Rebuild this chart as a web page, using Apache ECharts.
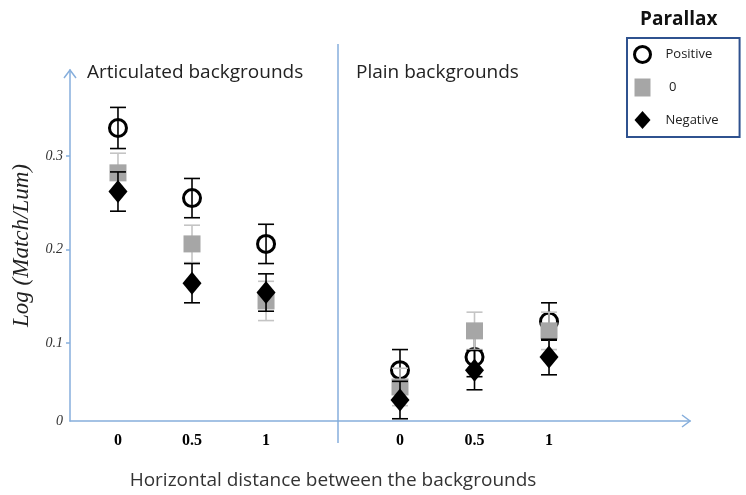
<!DOCTYPE html>
<html>
<head>
<meta charset="utf-8">
<script src="https://cdn.jsdelivr.net/npm/echarts@6/dist/echarts.min.js"></script>
<style>html,body{margin:0;padding:0;background:#fff}#c{width:746px;height:495px}</style>
</head>
<body>
<div id="c"></div>
<script>
// ---- data ----
const xValues = [0, 0.5, 1];
const xTickLabels = ['0', '0.5', '1'];
const yTickValues = [0.1, 0.2, 0.3];
const seriesNames = ['Positive', ' 0', 'Negative'];
const panelTitles = ['Articulated backgrounds', 'Plain backgrounds'];

const articulatedPositive = [0.330, 0.255, 0.206];
const articulatedZero     = [0.282, 0.206, 0.145];
const articulatedNegative = [0.262, 0.164, 0.154];
const articulatedPositiveErr = [0.022, 0.021, 0.021];
const articulatedZeroErr     = [0.021, 0.020, 0.021];
const articulatedNegativeErr = [0.021, 0.021, 0.020];

const plainPositive = [0.071, 0.085, 0.123];
const plainZero     = [0.053, 0.113, 0.113];
const plainNegative = [0.039, 0.071, 0.085];
const plainPositiveErr = [0.022, 0.021, 0.020];
const plainZeroErr     = [0.020, 0.020, 0.020];
const plainNegativeErr = [0.020, 0.021, 0.019];

// ---- chart ----
const yMin = 0.0166, yMax = 0.392;
const axisBlue = '#86aedc';

function pts(vals) { return xValues.map((x, i) => [x, vals[i]]); }
function errPts(vals, errs) { return xValues.map((x, i) => [x, vals[i], errs[i]]); }

function errRender(color) {
  return function (params, api) {
    const x = api.value(0), y = api.value(1), e = api.value(2);
    const t = api.coord([x, y + e]), b = api.coord([x, y - e]);
    const w = 8;
    const st = { stroke: color, lineWidth: 1.6 };
    return { type: 'group', children: [
      { type: 'line', shape: { x1: t[0], y1: t[1], x2: b[0], y2: b[1] }, style: st },
      { type: 'line', shape: { x1: t[0] - w, y1: t[1], x2: t[0] + w, y2: t[1] }, style: st },
      { type: 'line', shape: { x1: b[0] - w, y1: b[1], x2: b[0] + w, y2: b[1] }, style: st }
    ]};
  };
}

const markerStyles = [
  { symbol: 'circle', symbolSize: 17, itemStyle: { color: 'rgba(0,0,0,0)', borderColor: '#000', borderWidth: 3, opacity: 1 } },
  { symbol: 'rect', symbolSize: 17, itemStyle: { color: '#a6a6a6', opacity: 1 } },
  { symbol: 'diamond', symbolSize: [19, 23], itemStyle: { color: '#000', opacity: 1 } }
];
const errColors = ['#000', '#c4c4c4', '#000'];

const groups = [
  { vals: [articulatedPositive, articulatedZero, articulatedNegative], errs: [articulatedPositiveErr, articulatedZeroErr, articulatedNegativeErr] },
  { vals: [plainPositive, plainZero, plainNegative], errs: [plainPositiveErr, plainZeroErr, plainNegativeErr] }
];

const series = [];
groups.forEach((g, gi) => {
  for (let k = 0; k < 3; k++) {
    series.push({
      type: 'custom', name: 'err' + gi + k, xAxisIndex: gi, yAxisIndex: gi,
      renderItem: errRender(errColors[k]), data: errPts(g.vals[k], g.errs[k]),
      encode: { x: 0, y: [1, 2] }, z: 2 + k * 2, silent: true
    });
    series.push(Object.assign({
      type: 'scatter', name: seriesNames[k], xAxisIndex: gi, yAxisIndex: gi,
      data: pts(g.vals[k]), z: 3 + k * 2
    }, markerStyles[k]));
  }
});

const xLabel = {
  customValues: xValues,
  formatter: v => xTickLabels[xValues.indexOf(v)],
  fontFamily: 'Liberation Serif', fontWeight: 'bold', fontSize: 16, color: '#000', margin: 12
};

const legendIcons = [
  { name: seriesNames[0], icon: 'circle', itemStyle: { color: 'rgba(0,0,0,0)', borderColor: '#000', borderWidth: 3 } },
  { name: seriesNames[1], icon: 'rect', itemStyle: { color: '#a6a6a6' } },
  { name: seriesNames[2], icon: 'diamond', itemStyle: { color: '#000' } }
];

const chart = echarts.init(document.getElementById('c'), null, { renderer: 'canvas' });
chart.setOption({
  animation: false,
  title: [
    { text: panelTitles[0], left: 87, top: 63, padding: 0, textStyle: { fontFamily: 'Open Sans', fontWeight: 'normal', fontSize: 19, color: '#222' } },
    { text: panelTitles[1], left: 356, top: 63, padding: 0, textStyle: { fontFamily: 'Open Sans', fontWeight: 'normal', fontSize: 19, color: '#222' } },
    { text: 'Parallax', left: 640, top: 10, padding: 0, textStyle: { fontFamily: 'Open Sans', fontWeight: 'bold', fontSize: 19, color: '#111' } }
  ],
  legend: {
    data: legendIcons, orient: 'vertical', left: 627, top: 38,
    padding: [7, 21, 8, 6], itemGap: 14.5, itemWidth: 16, itemHeight: 18,
    borderColor: '#2f528f', borderWidth: 2, borderRadius: 0,
    textStyle: { fontFamily: 'Open Sans', fontSize: 13, color: '#222', padding: [0, 0, 3, 10] },
    selectedMode: false
  },
  grid: [
    { left: 70, right: 408, top: 70, bottom: 74 },
    { left: 338, right: 56, top: 70, bottom: 74 }
  ],
  xAxis: [
    { type: 'value', gridIndex: 0, min: -0.324, max: 1.486, splitLine: { show: false },
      axisLine: { onZero: false, lineStyle: { color: axisBlue, width: 1.5 } }, axisTick: { show: false }, axisLabel: xLabel },
    { type: 'value', gridIndex: 1, min: -0.416, max: 1.946, splitLine: { show: false },
      axisLine: { onZero: false, lineStyle: { color: axisBlue, width: 1.5 } }, axisTick: { show: false }, axisLabel: xLabel }
  ],
  yAxis: [
    { type: 'value', gridIndex: 0, min: yMin, max: yMax, splitLine: { show: false },
      axisLine: { show: true, onZero: false, lineStyle: { color: axisBlue, width: 1.5 } },
      axisTick: { show: true, customValues: yTickValues, length: 4, lineStyle: { color: axisBlue, width: 1.5 } },
      axisLabel: { customValues: [yMin].concat(yTickValues), formatter: v => (v < 0.05 ? '0' : String(v)),
        fontFamily: 'Liberation Serif', fontStyle: 'italic', fontSize: 14, color: '#333', margin: 7 },
      name: 'Log (Match/Lum)', nameLocation: 'middle', nameRotate: 90, nameGap: 37,
      nameTextStyle: { fontFamily: 'Liberation Serif', fontStyle: 'italic', fontSize: 23, color: '#222' } },
    { type: 'value', gridIndex: 1, min: yMin, max: yMax, show: false }
  ],
  graphic: [
    { type: 'line', shape: { x1: 338, y1: 44, x2: 338, y2: 443 }, style: { stroke: axisBlue, lineWidth: 1.5 } },
    { type: 'polyline', shape: { points: [[64, 78], [70, 70], [76, 78]] }, style: { stroke: axisBlue, lineWidth: 1.5, fill: null } },
    { type: 'polyline', shape: { points: [[682, 415], [690, 421], [682, 427]] }, style: { stroke: axisBlue, lineWidth: 1.5, fill: null } },
    { type: 'text', x: 333, y: 481, style: { text: 'Horizontal distance between the backgrounds', fontFamily: 'Open Sans', fontSize: 19, fill: '#333', align: 'center', verticalAlign: 'middle' } }
  ],
  series: series
});
</script>
</body>
</html>
